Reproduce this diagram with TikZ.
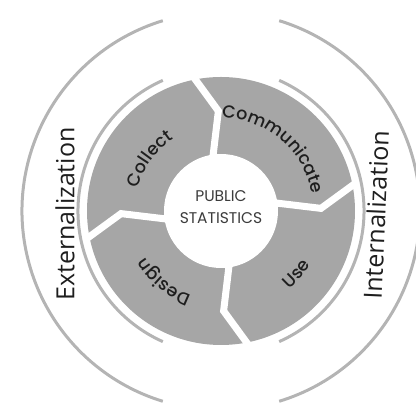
\documentclass[tikz,border=0pt]{standalone}
\usepackage{fontspec}
\usetikzlibrary{decorations.text}
\newfontfamily\lblfont{Poppins}[UprightFont={* Medium}]
\newfontfamily\hubfont{Poppins}
\newfontfamily\sidefont{Open Sans}
\definecolor{ringgray}{HTML}{A6A6A6}
\definecolor{arcgray}{HTML}{B4B4B4}
\definecolor{inktext}{HTML}{1E1E1E}
\definecolor{hubtext}{HTML}{3C3C3C}
\begin{document}
\begin{tikzpicture}[x=1pt,y=1pt,
  guide/.style={draw=arcgray, line width=3pt},
  gapline/.style={draw=white, line width=7pt, line join=miter},
  sidelabel/.style={font=\sidefont\fontsize{25}{30}\selectfont, text=inktext, inner sep=0pt},
  steplabel/.style={decorate, decoration={text along path, text align=center,
      text={|\lblfont\fontsize{17.5}{18}\selectfont\color{inktext}|#1}}},
]
\useasboundingbox (0,0) rectangle (416,406);
\coordinate (C) at (221,195);

% outer band: two open arcs
\draw[guide] (C) ++(107:199) arc[start angle=107, end angle=253, radius=199];
\draw[guide] (C) ++(-73:199) arc[start angle=-73, end angle=73, radius=199];

% inner band: two open arcs hugging the ring
\draw[guide] (C) ++(114:143) arc[start angle=114, end angle=246, radius=143];
\draw[guide] (C) ++(-66:143) arc[start angle=-66, end angle=66, radius=143];

% grey cycle ring
\fill[ringgray] (C) circle[radius=134];

% chevron-shaped gaps between the four stages
\foreach \b in {90,0,-90,180}
  \draw[gapline] ([shift={(\b+12:139)}]C) -- ([shift={(\b+1.5:100)}]C) -- ([shift={(\b+10:50)}]C);

% central hub
\node[circle, fill=white, minimum size=114pt, inner sep=0pt] (hub) at (C) {};
\node[align=center, font=\hubfont\fontsize{15.5}{22}\selectfont, text=hubtext] (hubtext) at (221,198.5) {PUBLIC\\STATISTICS};

% stage labels following the ring
\path[steplabel=Collect] (C) ++(184:86) arc[start angle=184, end angle=104, radius=86];
\path[steplabel=Communicate] (C) ++(100:93) arc[start angle=100, end angle=0, radius=93];
\path[steplabel=Design] (C) ++(271:89) arc[start angle=271, end angle=191, radius=89];
\path[steplabel=Use] (C) ++(-75:104) arc[start angle=-75, end angle=-5, radius=104];

% side labels
\node[sidelabel, rotate=90] (ext) at (65,192) {Externalization};
\node[sidelabel, rotate=87.5] (int) at (376,191) {Internalization};
\end{tikzpicture}
\end{document}
